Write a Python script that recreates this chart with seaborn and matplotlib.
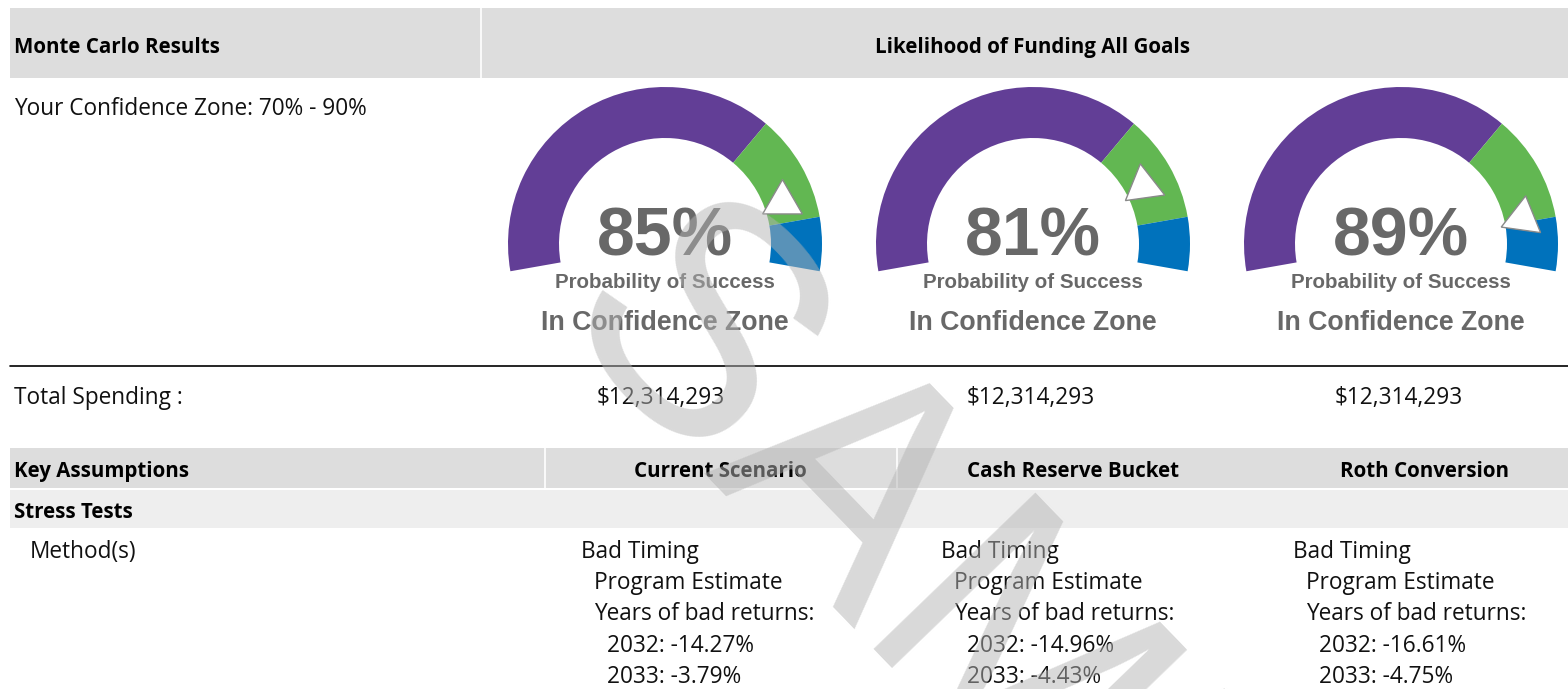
import numpy as np
import matplotlib
matplotlib.use("Agg")
import matplotlib.pyplot as plt
from matplotlib.patches import Rectangle
import seaborn as sns

# ---- data ----
scenarios = ["Current Scenario", "Cash Reserve Bucket", "Roth Conversion"]
success = [85, 81, 89]
zone_low, zone_high = 70, 90
total_spending = [12314293, 12314293, 12314293]
bad_2032 = [-14.27, -14.96, -16.61]
bad_2033 = [-3.79, -4.43, -4.75]

W, H = 1568, 689
PURPLE, GREEN, BLUE = "#623e96", "#62b752", "#0072bc"
GREY_TXT = "#686868"
BODY = "Open Sans"
GAUGE_FONT = "Liberation Sans"

sns.set_theme(style="white")
plt.rcParams["font.family"] = [BODY, "DejaVu Sans"]

fig = plt.figure(figsize=(W / 100, H / 100), dpi=100)
ax = fig.add_axes([0, 0, 1, 1])
ax.set_xlim(0, W)
ax.set_ylim(H, 0)
ax.axis("off")

##### table background #####
ax.add_patch(Rectangle((10, 8), W - 10, 70, color="#dddddd", lw=0))
ax.plot([481, 481], [8, 78], color="white", lw=1.2)
ax.plot([10, W], [366, 366], color="black", lw=1.2)
ax.add_patch(Rectangle((10, 448), W - 10, 40, color="#dddddd", lw=0))
ax.plot([545, 545], [448, 488], color="white", lw=1.2)
ax.plot([897, 897], [448, 488], color="white", lw=1.2)
ax.add_patch(Rectangle((10, 490), W - 10, 38, color="#eeeeee", lw=0))

body = dict(fontsize=16.3, color="#111111", va="baseline")
bold = dict(fontsize=14.8, color="black", va="baseline", fontweight="bold")

ax.text(14, 53, "Monte Carlo Results", **bold)
ax.text(1033, 53, "Likelihood of Funding All Goals", ha="center", **bold)
ax.text(14, 115, f"Your Confidence Zone: {zone_low}% - {zone_high}%", **body)
ax.text(14, 404, "Total Spending :", **body)
ax.text(14, 477, "Key Assumptions", **bold)
ax.text(14, 518, "Stress Tests", **bold)
ax.text(30, 558, "Method(s)", **body)

gauge_x = [665, 1033, 1401]
head_x = [720, 1073, 1425]
money_x = [597, 967, 1335]
method_x = [581, 941, 1293]

##### gauges #####
R_OUT, R_IN, CY = 157, 106, 244
START, SPAN = 190, 200
half = R_OUT * 1.1
for i, val in enumerate(success):
    cx = gauge_x[i]
    gax = fig.add_axes([(cx - half) / W, (H - CY - half) / H, 2 * half / W, 2 * half / H])
    hidden = 100 * (360 - SPAN) / SPAN
    gax.pie([zone_low, zone_high - zone_low, 100 - zone_high, hidden],
            colors=[PURPLE, GREEN, BLUE, "none"], startangle=START, counterclock=False,
            radius=1, wedgeprops=dict(width=(R_OUT - R_IN) / R_OUT, linewidth=0))
    theta = START - val / 100 * SPAN
    r_mark = 0.79
    gax.plot(r_mark * np.cos(np.radians(theta)), r_mark * np.sin(np.radians(theta)),
             marker=(3, 0, theta - 20), ms=33, mfc="white", mec="#8a8a8a", mew=1)
    gax.set_xlim(-1.1, 1.1)
    gax.set_ylim(-1.1, 1.1)
    gax.axis("off")

    ax.text(cx, 256, f"{val}%", ha="center", va="baseline", fontsize=49,
            fontweight="bold", color=GREY_TXT, family=GAUGE_FONT)
    ax.text(cx, 288, "Probability of Success", ha="center", va="baseline", fontsize=14.8,
            fontweight="bold", color=GREY_TXT, family=GAUGE_FONT)
    in_zone = zone_low <= val <= zone_high
    ax.text(cx, 330, "In Confidence Zone" if in_zone else "Outside Confidence Zone",
            ha="center", va="baseline", fontsize=19.3, fontweight="bold",
            color=GREY_TXT, family=GAUGE_FONT)

    ax.text(money_x[i], 404, f"${total_spending[i]:,}", **body)
    ax.text(head_x[i], 477, scenarios[i], ha="center", **bold)

    mx = method_x[i]
    ax.text(mx, 558, "Bad Timing", **body)
    ax.text(mx + 13, 589, "Program Estimate", **body)
    ax.text(mx + 13, 620, "Years of bad returns:", **body)
    ax.text(mx + 26, 652, f"2032: {bad_2032[i]:.2f}%", **body)
    ax.text(mx + 26, 683, f"2033: {bad_2033[i]:.2f}%", **body)

##### watermark #####
fig.text(608 / W, 1 - 268 / H, "SAMPLE", fontsize=235, rotation=-46, rotation_mode="anchor",
         ha="left", va="center", color="#b4b4b4", alpha=0.5, family=GAUGE_FONT, zorder=10)

fig.savefig("out.png", dpi=100)
